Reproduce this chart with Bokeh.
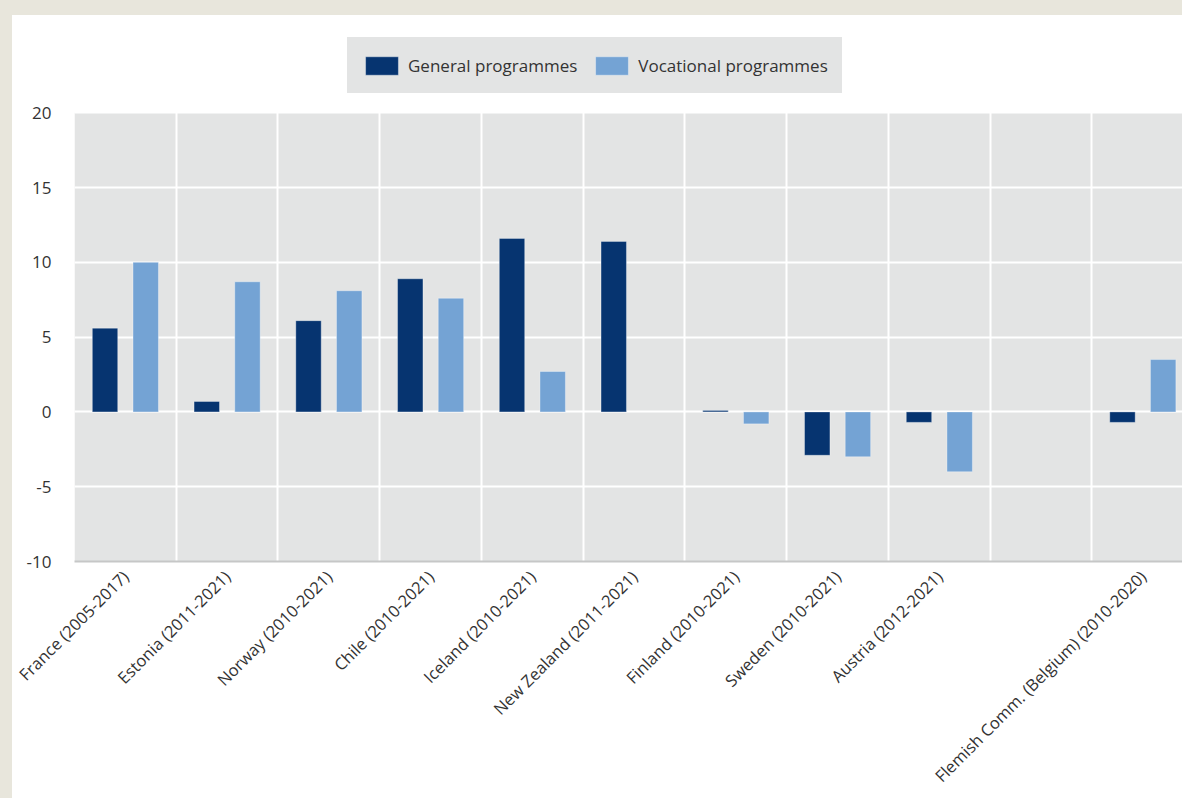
import math
import numpy as np
from bokeh.plotting import figure
from bokeh.models import (ColumnDataSource, Range1d, FixedTicker, Legend, LegendItem,
                          BoxAnnotation, GlobalInlineStyleSheet)
from bokeh.embed import file_html
from bokeh.resources import INLINE

# ---------------- data ----------------
categories = [
    "France (2005-2017)",
    "Estonia (2011-2021)",
    "Norway (2010-2021)",
    "Chile (2010-2021)",
    "Iceland (2010-2021)",
    "New Zealand (2011-2021)",
    "Finland (2010-2021)",
    "Sweden (2010-2021)",
    "Austria (2012-2021)",
    "",
    "Flemish Comm. (Belgium) (2010-2020)",
]
general = [5.6, 0.7, 6.1, 8.9, 11.6, 11.4, 0.1, -2.9, -0.7, None, -0.7]
vocational = [10.0, 8.7, 8.1, 7.6, 2.7, None, -0.8, -3.0, -4.0, None, 3.5]
series_names = ["General programmes", "Vocational programmes"]
y_ticks = [-10, -5, 0, 5, 10, 15, 20]

# ---------------- style ----------------
FONT = "Open Sans"
FS = "17px"
TXT = "#333333"
C_GEN = "#063470"
C_VOC = "#74a3d4"
PLOT_BG = "#e3e4e4"

centers = np.arange(len(categories)) + 0.5


def make_source(vals, offset):
    xs, tops = [], []
    for c, v in zip(centers, vals):
        if v is not None:
            xs.append(c + offset)
            tops.append(v)
    return ColumnDataSource(dict(x=xs, top=tops))


# frame reaches up to the top of the canvas; the grey plot area is the -10..20 band
p = figure(width=1170, height=783, output_backend="svg", toolbar_location=None,
           x_range=Range1d(0, 10.89), y_range=Range1d(-10, 26.5),
           min_border_left=62, min_border_right=0, min_border_top=0, min_border_bottom=236,
           background_fill_color="white", border_fill_color="white",
           outline_line_color=None)
p.styles = {"background-color": "white"}

p.add_layout(BoxAnnotation(bottom=y_ticks[0], top=y_ticks[-1], fill_color=PLOT_BG,
                           fill_alpha=1, line_color=None, level="image"))

r_gen = p.vbar(x="x", top="top", bottom=0, width=0.25, source=make_source(general, -0.2),
               fill_color=C_GEN, line_color="white", line_alpha=0.35, line_width=1)
r_voc = p.vbar(x="x", top="top", bottom=0, width=0.25, source=make_source(vocational, 0.2),
               fill_color=C_VOC, line_color="white", line_alpha=0.35, line_width=1)

# grids
p.ygrid.ticker = FixedTicker(ticks=y_ticks)
p.ygrid.grid_line_color = "white"
p.ygrid.grid_line_width = 2
p.xgrid.ticker = FixedTicker(ticks=list(range(1, len(categories))))
p.xgrid.grid_line_color = "white"
p.xgrid.grid_line_width = 2

# y axis
p.yaxis.ticker = FixedTicker(ticks=y_ticks)
p.yaxis.major_label_overrides = {t: str(t) for t in y_ticks}
p.yaxis.axis_line_color = None
p.yaxis.major_tick_line_color = None
p.yaxis.minor_tick_line_color = None
p.yaxis.major_label_standoff = 17
p.yaxis.major_label_text_font = FONT
p.yaxis.major_label_text_font_size = FS
p.yaxis.major_label_text_color = TXT

# x axis
p.xaxis.ticker = FixedTicker(ticks=[float(c) for c in centers])
p.xaxis.major_label_overrides = {float(c): lab for c, lab in zip(centers, categories)}
p.xaxis.major_label_orientation = math.pi / 4
p.xaxis.axis_line_color = "#c6c7c7"
p.xaxis.axis_line_width = 2
p.xaxis.major_tick_line_color = None
p.xaxis.minor_tick_line_color = None
p.xaxis.major_label_standoff = 6
p.xaxis.major_label_text_font = FONT
p.xaxis.major_label_text_font_size = "16.5px"
p.xaxis.major_label_text_color = TXT

# legend (offsets measured from the frame's bottom-left corner)
legend = Legend(items=[LegendItem(label=series_names[0], renderers=[r_gen]),
                       LegendItem(label=series_names[1], renderers=[r_voc])],
                orientation="horizontal", location=(273, 468), margin=0,
                padding=13, spacing=14, label_standoff=6,
                glyph_width=41, glyph_height=23, label_height=28,
                background_fill_color=PLOT_BG, background_fill_alpha=1,
                border_line_color=PLOT_BG, border_line_width=1,
                label_text_font=FONT, label_text_font_size=FS,
                label_text_color=TXT)
p.add_layout(legend, "center")

p.stylesheets = [GlobalInlineStyleSheet(css=(
    "html{margin:0;padding:0;overflow:hidden;}"
    "body{margin:0;padding:15px 0 0 12px;background:#e8e6dc;overflow:hidden;}"))]

open("out.html", "w").write(file_html(p, INLINE))
